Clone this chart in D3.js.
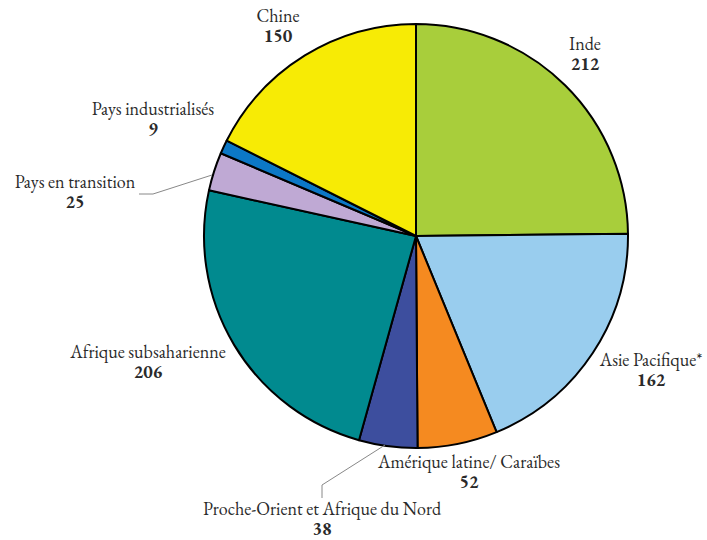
<!DOCTYPE html>
<html><head><meta charset="utf-8">
<script src="https://cdn.jsdelivr.net/npm/d3@7"></script>
<style>body{margin:0;background:#fff}svg{display:block}</style>
</head><body>
<script>
const categories = ["Inde","Asie Pacifique*","Amérique latine/ Caraïbes","Proche-Orient et Afrique du Nord","Afrique subsaharienne","Pays en transition","Pays industrialisés","Chine"];
const values = [212,162,52,38,206,25,9,150];
const colors = ["#A8CE3B","#99CDEE","#F58A20","#3D4E9E","#018A8F","#BFA9D4","#0C78C6","#F7EB05"];
// label anchor positions (centre of name text, baseline)
const labelPos = [[585,50],[651,366],[469,468],[322,515],[148,358],[75,188],[153,115],[278,22]];

const W=707,H=540,cx=416,cy=236,R=212;
const svg=d3.select("body").append("svg").attr("width",W).attr("height",H);
const pie=d3.pie().sort(null).value(d=>d)(values);
const arc=d3.arc().innerRadius(0).outerRadius(R);
const g=svg.append("g").attr("transform",`translate(${cx},${cy})`);
g.selectAll("path").data(pie).join("path")
 .attr("d",arc).attr("fill",(d,i)=>colors[i])
 .attr("stroke","#000").attr("stroke-width",2).attr("stroke-linejoin","round");

// leader lines
const lines=[
  {i:5,pts:[[139,194],[153,194],[212,175]]},
  {i:3,pts:[[385,445],[322,485],[322,498]]}
];
svg.selectAll("polyline").data(lines).join("polyline")
 .attr("points",d=>d.pts.map(p=>p.join(",")).join(" "))
 .attr("fill","none").attr("stroke","#888").attr("stroke-width",1);

const FF='"EB Garamond","Liberation Serif",serif';
const lab=svg.append("g").attr("fill","#2a2a2a").attr("text-anchor","middle");
categories.forEach((c,i)=>{
  const [x,y]=labelPos[i];
  lab.append("text").attr("x",x).attr("y",y).style("font-family",FF).style("font-size","18px").text(c);
  lab.append("text").attr("x",x).attr("y",y+20).style("font-family",FF).style("font-size","18px").style("font-weight","bold").text(values[i]);
});
</script>
</body></html>
